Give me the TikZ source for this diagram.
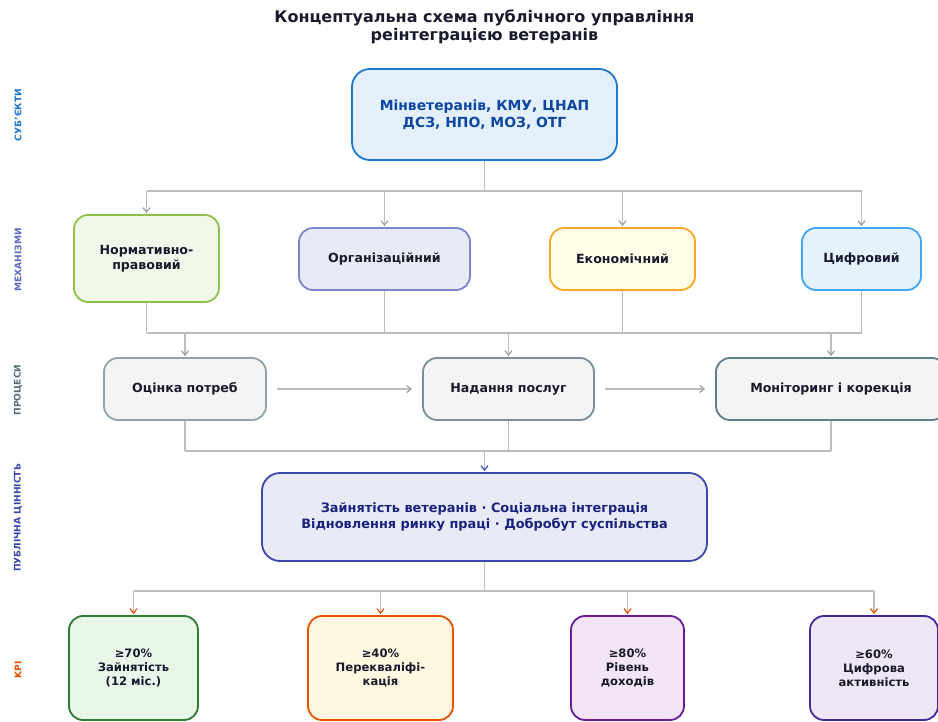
\documentclass[tikz,border=0pt]{standalone}
\usepackage{fontspec}
\setmainfont{DejaVu Sans}
\usetikzlibrary{arrows.meta}
\definecolor{txt}{HTML}{1A1A2E}
\definecolor{conn}{HTML}{BDBDBD}
\definecolor{tip}{HTML}{9E9E9E}
\definecolor{cA}{HTML}{1E78D0}
\definecolor{cAf}{HTML}{E3F0FC}
\definecolor{cAt}{HTML}{0D47A1}
\definecolor{cM}{HTML}{5C6BC0}
\definecolor{cP}{HTML}{546E7A}
\definecolor{cV}{HTML}{3949AB}
\definecolor{cVt}{HTML}{1A237E}
\definecolor{cK}{HTML}{E65100}
\definecolor{m1f}{HTML}{F1F8E9}\definecolor{m1d}{HTML}{8BC34A}
\definecolor{m2f}{HTML}{E8EAF6}\definecolor{m2d}{HTML}{7986CB}
\definecolor{m3f}{HTML}{FFFDE7}\definecolor{m3d}{HTML}{F9A825}
\definecolor{m4f}{HTML}{E3F2FD}\definecolor{m4d}{HTML}{42A5F5}
\definecolor{pf}{HTML}{F4F4F4}
\definecolor{p1d}{HTML}{90A4AE}\definecolor{p2d}{HTML}{78909C}\definecolor{p3d}{HTML}{607D8B}
\definecolor{vf}{HTML}{E8EAF6}
\definecolor{k1f}{HTML}{E8F5E9}\definecolor{k1d}{HTML}{2E7D32}
\definecolor{k2f}{HTML}{FFF8E1}\definecolor{k2d}{HTML}{E65100}
\definecolor{k3f}{HTML}{F3E5F5}\definecolor{k3d}{HTML}{6A1B9A}
\definecolor{k4f}{HTML}{EDE7F6}\definecolor{k4d}{HTML}{4527A0}
\tikzset{
  box/.style={draw, rounded corners=14pt, line width=1.8pt, inner sep=0pt, align=center,
    font=\bfseries\fontsize{12.6}{15}\selectfont, text=txt},
  kpi/.style={box, minimum height=104pt, font=\bfseries\fontsize{11.6}{14}\selectfont},
  line/.style={draw=conn, line width=1.6pt},
  arr/.style={line, -{Straight Barb[length=4.5pt,width=7pt,line width=1.2pt,color=#1]}, shorten >=1pt},
  arr/.default=tip,
  side/.style={rotate=90, font=\bfseries\fontsize{9.1}{11}\selectfont},
}
\begin{document}
\begin{tikzpicture}[x=1pt,y=-1pt]
\useasboundingbox[fill=white] (0,0) rectangle (938,722);
% title
\node[font=\bfseries\fontsize{16}{17.5}\selectfont, text=txt, align=center] (title) at (484.5,27) {Концептуальна схема публічного управління\\реінтеграцією ветеранів};
% side labels
\node[side, text=cA] (s1) at (18,115) {СУБ’ЄКТИ};
\node[side, text=cM] (s2) at (18,260) {МЕХАНІЗМИ};
\node[side, text=cP] (s3) at (18,390) {ПРОЦЕСИ};
\node[side, text=cV] (s4) at (18,518) {ПУБЛІЧНА ЦІННІСТЬ};
\node[side, text=cK] (s5) at (18,670) {KPI};
% top
\node[box, fill=cAf, draw=cA, text=cAt, minimum width=265pt, minimum height=91pt, rounded corners=18pt, font=\bfseries\fontsize{13.9}{17}\selectfont] (top) at (484.5,114.5) {Мінветеранів, КМУ, ЦНАП\\ДСЗ, НПО, МОЗ, ОТГ};
% mechanisms
\node[box, fill=m1f, draw=m1d, minimum width=145pt, minimum height=87pt] (m1) at (146.5,258.5) {Нормативно-\\правовий};
\node[box, fill=m2f, draw=m2d, minimum width=171pt, minimum height=62pt] (m2) at (384.5,259) {Організаційний};
\node[box, fill=m3f, draw=m3d, minimum width=145pt, minimum height=62pt] (m3) at (622.5,259) {Економічний};
\node[box, fill=m4f, draw=m4d, minimum width=119pt, minimum height=62pt] (m4) at (861.5,259) {Цифровий};
% processes
\node[box, fill=pf, draw=p1d, minimum width=162pt, minimum height=62pt] (p1) at (185,389) {Оцінка потреб};
\node[box, fill=pf, draw=p2d, minimum width=171pt, minimum height=62pt] (p2) at (508.5,389) {Надання послуг};
\node[box, fill=pf, draw=p3d, minimum width=230pt, minimum height=62pt] (p3) at (831,389) {Моніторинг і корекція};
% value
\node[box, fill=vf, draw=cV, text=cVt, minimum width=445pt, minimum height=88pt, rounded corners=18pt, font=\bfseries\fontsize{12.9}{15.5}\selectfont] (val) at (484.5,517) {Зайнятість ветеранів · Соціальна інтеграція\\Відновлення ринку праці · Добробут суспільства};
% KPI
\node[kpi, fill=k1f, draw=k1d, minimum width=129pt] (k1) at (133.5,668) {≥70\%\\Зайнятість\\(12 міс.)};
\node[kpi, fill=k2f, draw=k2d, minimum width=145pt] (k2) at (380.5,668) {≥40\%\\Перекваліфі-\\кація};
\node[kpi, fill=k3f, draw=k3d, minimum width=113pt] (k3) at (627.5,668) {≥80\%\\Рівень\\доходів};
\node[kpi, fill=k4f, draw=k4d, minimum width=128pt] (k4) at (874,668) {≥60\%\\Цифрова\\активність};
% buses
\coordinate (b1) at (484.5,191);
\coordinate (b2) at (484.5,333);
\coordinate (b3) at (484.5,451);
\coordinate (b4) at (484.5,591);
% subjects -> mechanisms
\draw[line] (top.south) -- (b1);
\draw[line] (b1 -| m1) -- (b1 -| m4);
\foreach \m in {m1,m2,m3,m4} \draw[arr] (b1 -| \m) -- (\m.north);
% mechanisms -> processes
\foreach \m in {m1,m2,m3,m4} \draw[line] (\m.south) -- (\m.south |- b2);
\draw[line] (b2 -| m1) -- (b2 -| m4);
\foreach \p in {p1,p2,p3} \draw[arr] (b2 -| \p) -- (\p.north);
% process chain
\draw[arr, shorten <=10pt, shorten >=10pt] (p1.east) -- (p2.west);
\draw[arr, shorten <=10pt, shorten >=10pt] (p2.east) -- (p3.west);
% processes -> value
\foreach \p in {p1,p2,p3} \draw[line] (\p.south) -- (\p.south |- b3);
\draw[line] (b3 -| p1) -- (b3 -| p3);
\draw[arr=cV] (b3) -- (val.north);
% value -> KPI
\draw[line] (val.south) -- (b4);
\draw[line] (b4 -| k1) -- (b4 -| k4);
\foreach \k in {k1,k2,k3,k4} \draw[arr=cK] (b4 -| \k) -- (\k.north);
\end{tikzpicture}
\end{document}
